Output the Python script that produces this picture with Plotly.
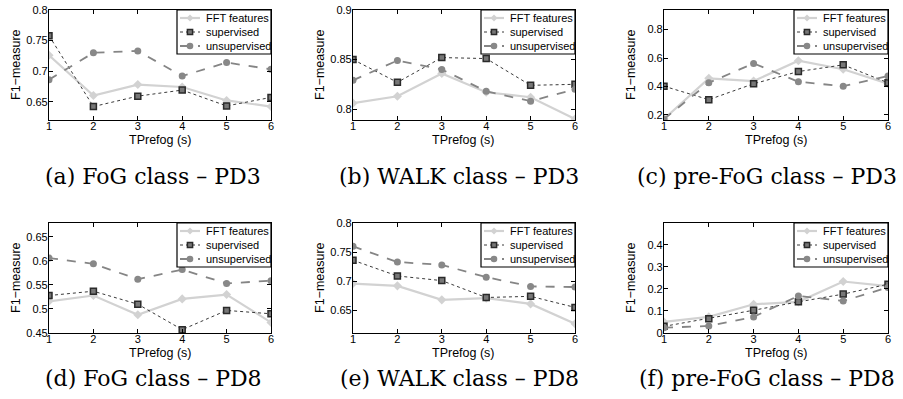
import plotly.graph_objects as go

# ---------------- data ----------------
x_tprefog = [1, 2, 3, 4, 5, 6]
series_names = ["FFT features", "supervised", "unsupervised"]

fog_pd3_fft = [0.726, 0.660, 0.678, 0.674, 0.652, 0.642]
fog_pd3_sup = [0.758, 0.642, 0.659, 0.669, 0.643, 0.657]
fog_pd3_uns = [0.686, 0.730, 0.733, 0.692, 0.714, 0.703]

walk_pd3_fft = [0.806, 0.813, 0.836, 0.817, 0.812, 0.790]
walk_pd3_sup = [0.850, 0.827, 0.852, 0.851, 0.824, 0.825]
walk_pd3_uns = [0.829, 0.849, 0.840, 0.818, 0.808, 0.820]

prefog_pd3_fft = [0.171, 0.457, 0.438, 0.581, 0.521, 0.419]
prefog_pd3_sup = [0.402, 0.307, 0.419, 0.505, 0.552, 0.426]
prefog_pd3_uns = [0.171, 0.426, 0.562, 0.433, 0.402, 0.474]

fog_pd8_fft = [0.516, 0.528, 0.488, 0.521, 0.530, 0.472]
fog_pd8_sup = [0.528, 0.537, 0.510, 0.457, 0.497, 0.490]
fog_pd8_uns = [0.606, 0.594, 0.562, 0.582, 0.553, 0.559]

walk_pd8_fft = [0.696, 0.692, 0.668, 0.671, 0.661, 0.627]
walk_pd8_sup = [0.736, 0.709, 0.701, 0.672, 0.674, 0.655]
walk_pd8_uns = [0.760, 0.733, 0.728, 0.707, 0.691, 0.690]

prefog_pd8_fft = [0.050, 0.073, 0.130, 0.141, 0.233, 0.212]
prefog_pd8_sup = [0.030, 0.065, 0.103, 0.141, 0.176, 0.221]
prefog_pd8_uns = [0.024, 0.032, 0.073, 0.168, 0.145, 0.206]

captions = [
    "(a) FoG class – PD3", "(b) WALK class – PD3", "(c) pre-FoG class – PD3",
    "(d) FoG class – PD8", "(e) WALK class – PD8", "(f) pre-FoG class – PD8",
]
x_title = "TPrefog (s)"
y_title = "F1−measure"

yticks_a = [0.65, 0.7, 0.75, 0.8]
yticks_b = [0.8, 0.85, 0.9]
yticks_c = [0.2, 0.4, 0.6, 0.8]
yticks_d = [0.45, 0.5, 0.55, 0.6, 0.65]
yticks_e = [0.65, 0.7, 0.75, 0.8]
yticks_f = [0, 0.1, 0.2, 0.3, 0.4]

yranges = [[0.62, 0.80], [0.789, 0.90], [0.164, 0.938],
           [0.45, 0.679], [0.611, 0.80], [0.0, 0.498]]

panels = [
    (fog_pd3_fft, fog_pd3_sup, fog_pd3_uns, yticks_a),
    (walk_pd3_fft, walk_pd3_sup, walk_pd3_uns, yticks_b),
    (prefog_pd3_fft, prefog_pd3_sup, prefog_pd3_uns, yticks_c),
    (fog_pd8_fft, fog_pd8_sup, fog_pd8_uns, yticks_d),
    (walk_pd8_fft, walk_pd8_sup, walk_pd8_uns, yticks_e),
    (prefog_pd8_fft, prefog_pd8_sup, prefog_pd8_uns, yticks_f),
]

# ---------------- layout geometry (pixels) ----------------
W, H = 903, 399
cols = [(49, 271), (353, 575), (664, 888)]
rows = [(10, 120), (223, 333)]
caption_y = [177, 378]
caption_x = [153, 459, 767]

line_styles = [
    dict(color="#d2d2d2", width=2.2, dash="solid"),
    dict(color="#3a3a3a", width=1, dash="dot"),
    dict(color="#858585", width=1.8, dash="dash"),
]
marker_styles = [
    dict(symbol="diamond", size=7, color="#d2d2d2"),
    dict(symbol="square", size=6, color="#777777", line=dict(color="#2a2a2a", width=1.5)),
    dict(symbol="circle", size=7, color="#888888"),
]


def px(x):
    return x / W


def py(y):
    return 1 - y / H


fig = go.Figure()
shapes = []
annotations = []
layout = dict(
    template="none",
    width=W, height=H, margin=dict(l=0, r=0, t=0, b=0),
    paper_bgcolor="white", plot_bgcolor="white", showlegend=False,
    font=dict(family="Liberation Sans, Arial, sans-serif", size=11, color="black"),
)

for i, (fft, sup, uns, yt) in enumerate(panels):
    r, c = divmod(i, 3)
    l, rr = cols[c]
    t, b = rows[r]
    n = "" if i == 0 else str(i + 1)
    for s, (name, vals) in enumerate(zip(series_names, (fft, sup, uns))):
        fig.add_trace(go.Scatter(
            x=x_tprefog, y=vals, name=name, mode="lines+markers",
            xaxis="x" + n, yaxis="y" + n,
            line=line_styles[s], marker=marker_styles[s],
        ))
    axis_common = dict(
        showline=True, linecolor="black", linewidth=1.2, mirror="allticks",
        ticks="inside", ticklen=4, tickcolor="black", showgrid=False,
        zeroline=False, tickfont=dict(size=11), automargin=False,
    )
    layout["xaxis" + n] = dict(
        axis_common, domain=[px(l), px(rr)], anchor="y" + n,
        range=[1, 6], tickvals=x_tprefog, ticktext=[str(v) for v in x_tprefog],
        ticklabelstandoff=-4,
    )
    layout["yaxis" + n] = dict(
        axis_common, domain=[py(b), py(t)], anchor="x" + n,
        range=yranges[i], tickvals=yt, ticktext=[("%g" % v) for v in yt],
        ticklabelstandoff=-2,
    )
    # axis titles
    annotations.append(dict(text=x_title, x=px((l + rr) / 2), y=py(b + 20),
                            xref="paper", yref="paper", xanchor="center", yanchor="middle",
                            showarrow=False, font=dict(size=12.5)))
    annotations.append(dict(text=y_title, x=px(l - 33), y=py((t + b) / 2),
                            xref="paper", yref="paper", xanchor="center", yanchor="middle",
                            textangle=-90, showarrow=False, font=dict(size=12.5)))

    # ---- legend box (drawn as decoration, top-right inside each panel) ----
    R, T = rr, t
    shapes.append(dict(type="rect", xref="paper", yref="paper",
                       x0=px(R - 94), x1=px(R), y0=py(T + 44), y1=py(T),
                       fillcolor="white", line=dict(color="black", width=1.2)))
    for k in range(3):
        yk = T + 8 + 14 * k
        ls = line_styles[k]
        shapes.append(dict(type="line", xref="paper", yref="paper",
                           x0=px(R - 91), x1=px(R - 71), y0=py(yk), y1=py(yk),
                           line=dict(color=ls["color"], width=ls["width"], dash=ls["dash"])))
        cx, cy = px(R - 81), py(yk)
        common = dict(xref="paper", yref="paper", xsizemode="pixel", ysizemode="pixel",
                      xanchor=cx, yanchor=cy)
        if k == 0:
            shapes.append(dict(common, type="path", path="M -3.5 0 L 0 3.5 L 3.5 0 L 0 -3.5 Z",
                               fillcolor="#d2d2d2", line=dict(width=0)))
        elif k == 1:
            shapes.append(dict(common, type="rect", x0=-2.6, x1=2.6, y0=-2.6, y1=2.6,
                               fillcolor="#777777", line=dict(color="#2a2a2a", width=1.5)))
        else:
            shapes.append(dict(common, type="circle", x0=-3.3, x1=3.3, y0=-3.3, y1=3.3,
                               fillcolor="#888888", line=dict(width=0)))
        annotations.append(dict(text=series_names[k], x=px(R - 67), y=py(yk),
                                xref="paper", yref="paper", xanchor="left", yanchor="middle",
                                showarrow=False, font=dict(size=11, color="black")))

    annotations.append(dict(
        text=captions[i], x=px(caption_x[c]), y=py(caption_y[r]),
        xref="paper", yref="paper", xanchor="center", yanchor="middle",
        showarrow=False,
        font=dict(family="DejaVu Serif, serif", size=22, color="black"),
    ))

layout["shapes"] = shapes
layout["annotations"] = annotations
fig.update_layout(**layout)
fig.write_html("out.html", config={"displayModeBar": False},
               post_script="document.body.style.margin='0px';document.body.style.overflow='hidden';")
